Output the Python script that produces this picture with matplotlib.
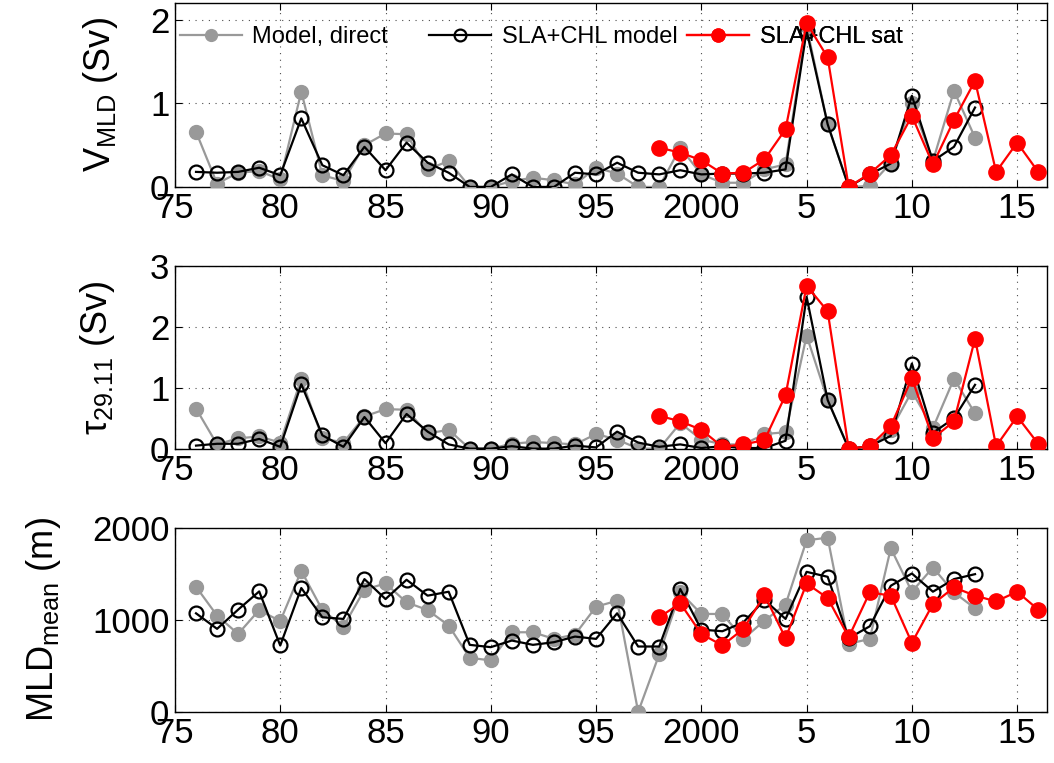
import matplotlib
matplotlib.use('Agg')
import matplotlib.pyplot as plt
from matplotlib.lines import Line2D
import numpy as np

plt.rcParams['font.family'] = ['Liberation Sans', 'DejaVu Sans']
plt.rcParams['mathtext.fontset'] = 'custom'
plt.rcParams['mathtext.rm'] = 'Liberation Sans'
plt.rcParams['mathtext.it'] = 'Liberation Sans'

# years
yr_model = np.arange(1976, 2014)
yr_sat = np.arange(1998, 2017)

# V_MLD (Sv)
v_direct = [0.66, 0.04, 0.17, 0.19, 0.09, 1.14, 0.14, 0.07, 0.50, 0.64,
            0.63, 0.21, 0.31, 0.0, 0.0, 0.07, 0.11, 0.08, 0.03, 0.23,
            0.16, 0.0, 0.0, 0.47, 0.15, 0.05, 0.05, 0.21, 0.27, 1.92,
            0.75, 0.0, 0.01, 0.29, 1.0, 0.31, 1.15, 0.59]
v_model = [0.18, 0.17, 0.18, 0.23, 0.14, 0.82, 0.26, 0.14, 0.48, 0.20,
           0.53, 0.29, 0.17, 0.0, 0.0, 0.15, 0.0, 0.0, 0.17, 0.15,
           0.29, 0.17, 0.15, 0.20, 0.15, 0.16, 0.16, 0.17, 0.21, 1.87,
           0.75, 0.0, 0.15, 0.28, 1.09, 0.31, 0.48, 0.95]
v_sat = [0.47, 0.41, 0.32, 0.16, 0.17, 0.33, 0.69, 1.96, 1.55, 0.0,
         0.16, 0.38, 0.85, 0.27, 0.80, 1.27, 0.18, 0.53, 0.18]

# tau_29.11 (Sv)
t_direct = [0.66, 0.07, 0.17, 0.20, 0.10, 1.15, 0.17, 0.10, 0.53, 0.65,
            0.64, 0.25, 0.31, 0.0, 0.0, 0.08, 0.11, 0.09, 0.07, 0.24,
            0.15, 0.0, 0.0, 0.42, 0.15, 0.07, 0.07, 0.24, 0.27, 1.86,
            0.80, 0.0, 0.0, 0.31, 0.94, 0.34, 1.15, 0.58]
t_model = [0.05, 0.08, 0.08, 0.16, 0.03, 1.06, 0.22, 0.03, 0.52, 0.09,
           0.57, 0.28, 0.07, 0.0, 0.0, 0.04, 0.0, 0.0, 0.05, 0.02,
           0.28, 0.10, 0.03, 0.07, 0.01, 0.04, 0.01, 0.01, 0.13, 2.50,
           0.80, 0.0, 0.04, 0.21, 1.40, 0.26, 0.50, 1.05]
t_sat = [0.54, 0.45, 0.31, 0.03, 0.07, 0.14, 0.88, 2.68, 2.26, 0.0,
         0.04, 0.37, 1.16, 0.17, 0.45, 1.81, 0.04, 0.53, 0.08]

# MLD mean (m)
m_direct = [1361, 1047, 848, 1108, 986, 1534, 1108, 928, 1329, 1397,
            1191, 1108, 939, 588, 560, 866, 866, 794, 841, 1144,
            1209, 0, 625, 1300, 1065, 1065, 794, 993, 1166, 1866,
            1895, 740, 794, 1780, 1307, 1570, 1300, 1126]
m_model = [1072, 903, 1112, 1310, 722, 1347, 1029, 1011, 1444, 1227,
           1437, 1264, 1307, 729, 704, 776, 729, 758, 819, 794,
           1072, 711, 711, 1336, 895, 877, 975, 1217, 1011, 1523,
           1469, 801, 931, 1372, 1505, 1307, 1444, 1498]
m_sat = [1029, 1181, 848, 722, 903, 1271, 801, 1397, 1238, 812,
         1300, 1264, 751, 1173, 1354, 1264, 1202, 1307, 1112]

xticks = [1975, 1980, 1985, 1990, 1995, 2000, 2005, 2010, 2015]
xticklabels = ['75', '80', '85', '90', '95', '2000', '5', '10', '15']

series_names = ['Model, direct', 'SLA+CHL model', 'SLA+CHL sat']

panels = [
    (v_direct, v_model, v_sat, [0, 2.2], [0, 1, 2], r'V$_{\mathrm{MLD}}$ (Sv)', -0.063),
    (t_direct, t_model, t_sat, [0, 3], [0, 1, 2, 3], r'$\tau_{\mathrm{29.11}}$ (Sv)', -0.066),
    (m_direct, m_model, m_sat, [0, 2000], [0, 1000, 2000], r'MLD$_{\mathrm{mean}}$ (m)', -0.128),
]

fig = plt.figure(figsize=(10.54, 7.63), dpi=100)
boxes = [(0.755, 0.996), (0.412, 0.651), (0.067, 0.308)]
grey = '#999999'
styles = [
    dict(color=grey, mfc=grey, mec=grey, lw=1.6, ms=10, marker='o'),
    dict(color='k', mfc='none', mec='k', lw=1.6, ms=10, mew=1.6, marker='o'),
    dict(color='red', mfc='red', mec='red', lw=1.6, ms=11, marker='o'),
]

for i, (d, m, s, ylim, yticks, ylab, labx) in enumerate(panels):
    b, t = boxes[i]
    ax = fig.add_axes([0.166, b, 0.827, t - b])
    ax.plot(yr_model, d, zorder=3, **styles[0])
    ax.plot(yr_model, m, zorder=4, **styles[1])
    ax.plot(yr_sat, s, zorder=5, **styles[2])
    ax.set_xlim(1975, 2016.4)
    ax.set_ylim(ylim)
    ax.set_xticks(xticks)
    ax.set_xticklabels(xticklabels)
    ax.set_yticks(yticks)
    ax.grid(True, color='k', linestyle=(0, (1, 5)), linewidth=0.8, alpha=0.7)
    ax.tick_params(direction='in', top=True, right=True, labelsize=25,
                   length=5, pad=4)
    ax.set_ylabel(ylab, fontsize=26)
    ax.yaxis.set_label_coords(labx, 0.5)
    for sp in ax.spines.values():
        sp.set_linewidth(1.0)
    if i == 0:
        # one legend per entry, spread across the top of the panel
        for k, xpos in enumerate([0.006, 0.292, 0.588]):
            st = dict(styles[k])
            st['ms'] = st['ms'] * 0.85
            h = Line2D([], [], **st)
            leg = ax.legend([h], [series_names[k]], loc='center left',
                            bbox_to_anchor=(xpos, 0.815), frameon=False,
                            fontsize=17, handlelength=2.6, handletextpad=0.45,
                            borderpad=0, borderaxespad=0)
            leg.set_zorder(1)
            ax.add_artist(leg)

fig.savefig('out.png', dpi=100)
